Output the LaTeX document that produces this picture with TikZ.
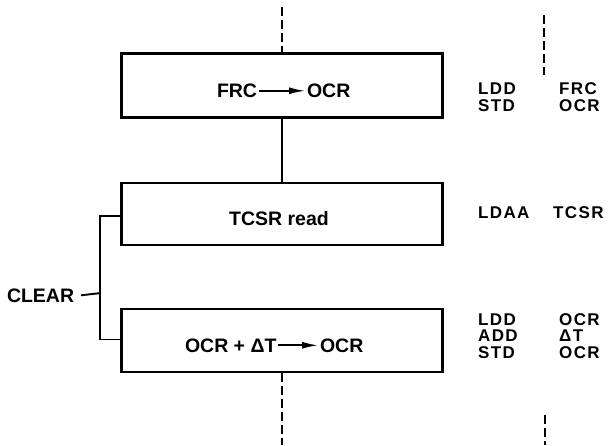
\documentclass[tikz,border=0pt]{standalone}
\usepackage{fontspec}
\usetikzlibrary{arrows.meta}
\newfontfamily\labfont{Liberation Sans Bold}
\newfontfamily\asmfont[LetterSpace=8]{Liberation Sans Bold}
\begin{document}
\begin{tikzpicture}[x=1pt,y=-1pt,
  boxstyle/.style={draw,line width=2.8pt,minimum width=321pt,inner sep=0pt},
  conn/.style={line width=1.9pt},
  dashline/.style={line width=1.9pt,dash pattern=on 9pt off 4pt},
  btxt/.style={inner sep=0pt,outer sep=2pt,anchor=base west,font=\labfont\fontsize{19.5}{19.5}\selectfont},
  atxt/.style={inner sep=0pt,anchor=base west,font=\asmfont\fontsize{17}{17}\selectfont},
  tarrow/.style={line width=1.6pt,-{Latex[length=16pt,width=7pt]}}]
\useasboundingbox (0,0) rectangle (616,445);
% boxes
\node[boxstyle,minimum height=64pt] (b1) at (282,85.5) {};
\node[boxstyle,minimum height=62pt] (b2) at (282,214) {};
\node[boxstyle,minimum height=63pt] (b3) at (282,340.5) {};
% box texts
\node[btxt] (f1) at (215,97.5) {FRC};
\node[btxt] (f2) at (305,97.5) {OCR};
\draw[tarrow] (f1.east) -- (f2.west);
\node[btxt,anchor=base] (t2) at (279,225) {TCSR read};
\node[btxt] (o1) at (183,352) {OCR + ΔT};
\node[btxt] (o2) at (318,352) {OCR};
\draw[tarrow] (o1.east) -- (o2.west);
% connectors
\coordinate (top) at (282,7);
\coordinate (bot) at (282,445);
\draw[dashline] (top) -- (b1.north);
\draw[conn] (b1.south) -- (b2.north);
\draw[dashline] (b3.south) -- (bot);
% CLEAR bracket
\coordinate (j) at (101,293);
\draw[conn] ([yshift=-2pt]b2.west) -- ++(-20,0) |- ([yshift=1pt]b3.west);
\node[btxt,anchor=base west,outer sep=0pt] (clr) at (7,302) {CLEAR};
\draw[conn] (clr.east) ++(7,0) -- (j);
% right-hand dashed lines
\coordinate (r1) at (544,15);
\coordinate (r2) at (544,75);
\coordinate (r3) at (545,415);
\coordinate (r4) at (545,445);
\draw[dashline] (r1) -- (r2);
\draw[dashline] (r3) -- (r4);
% assembly listing
\node[atxt] (a1) at (478,94.5) {LDD};
\node[atxt] (a2) at (559,94.5) {FRC};
\node[atxt] (a3) at (478,111) {STD};
\node[atxt] (a4) at (559,111) {OCR};
\node[atxt] (a5) at (478,218) {LDAA};
\node[atxt] (a6) at (553,218) {TCSR};
\node[atxt] (a7) at (478,325) {LDD};
\node[atxt] (a8) at (559,325) {OCR};
\node[atxt] (a9) at (478,341.5) {ADD};
\node[atxt] (a10) at (559,341.5) {ΔT};
\node[atxt] (a11) at (478,358) {STD};
\node[atxt] (a12) at (559,358) {OCR};
\end{tikzpicture}
\end{document}
